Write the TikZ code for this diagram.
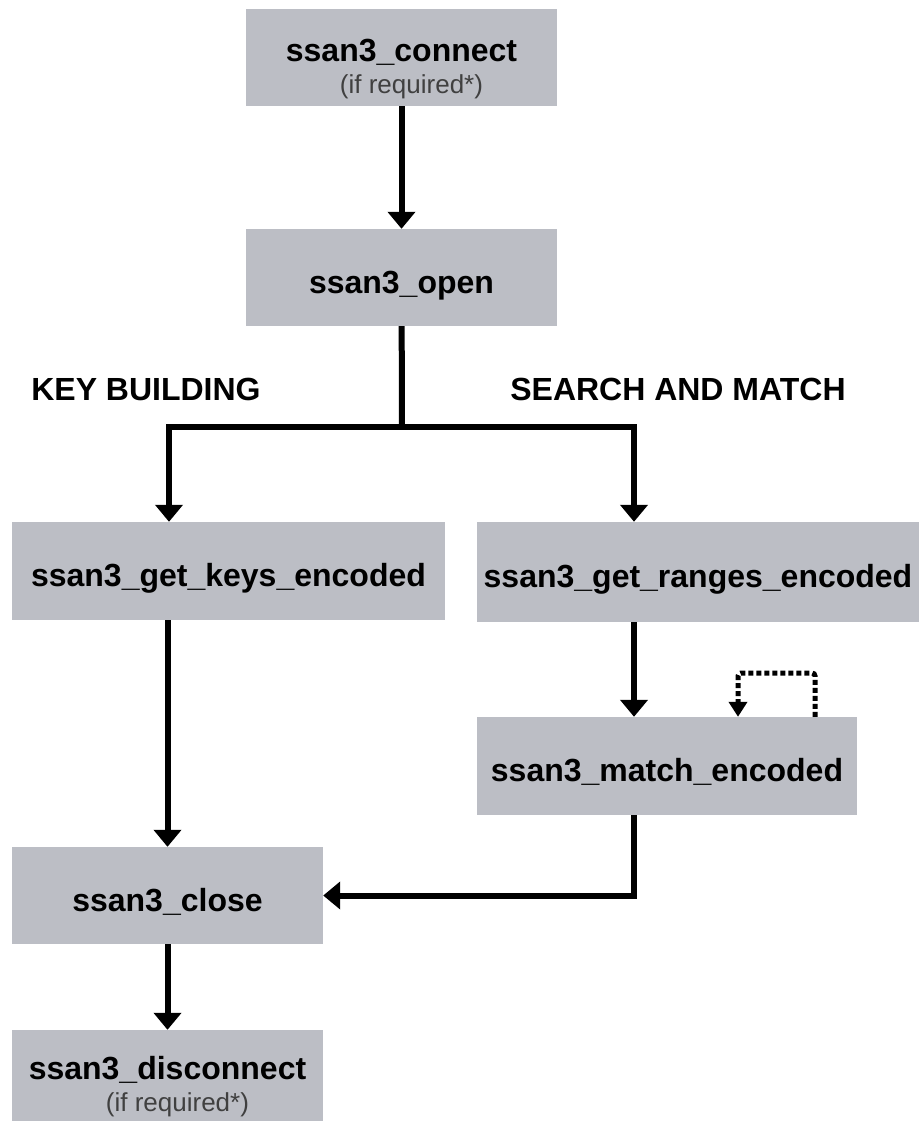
\documentclass[tikz,border=0pt]{standalone}
\usepackage{fontspec}
\setmainfont{Liberation Sans}
\usetikzlibrary{arrows.meta}
\definecolor{boxgray}{RGB}{188,190,197}
\definecolor{notegray}{RGB}{64,64,64}
\newcommand{\reqnote}{{\fontsize{26}{28}\selectfont\mdseries\color{notegray}\hspace*{20pt}(if required*)}}
\begin{document}
\begin{tikzpicture}[x=1pt,y=-1pt,
    box/.style={fill=boxgray, minimum height=97pt, inner sep=0pt, font=\fontsize{32}{35}\selectfont\bfseries},
    single/.style={box, text height=31pt, text depth=0pt},
    double/.style={box, align=center},
    lab/.style={inner sep=0pt, font=\fontsize{32}{35}\selectfont\bfseries, text height=23pt, text depth=0pt},
    line/.style={line width=6pt},
    flow/.style={line, -{Triangle[width=27pt,length=17pt]}},
    loopflow/.style={line width=5pt, dash pattern=on 5pt off 3pt, rounded corners=3pt, -{Triangle[width=18pt,length=15pt]}}]
    \useasboundingbox (0,0) rectangle (918,1121);
    %Nodes
    \node[double, minimum width=311pt] at (401.5,57.5) (connect) {\rule{0pt}{46pt}ssan3\_connect\\[-3pt]\reqnote};
    \node[single, minimum width=311pt] at (401.5,277.5) (open) {ssan3\_open};
    \node[lab] at (146,389) (keylab) {KEY BUILDING};
    \node[lab] at (678,389) (searchlab) {SEARCH AND MATCH};
    \coordinate (fork) at (402,427);
    \coordinate (forkl) at (169,427);
    \coordinate (forkr) at (634,427);
    \node[single, minimum width=433pt, minimum height=98pt] at (228.5,571) (keys) {ssan3\_get\_keys\_encoded};
    \node[single, minimum width=442pt, minimum height=100pt] at (698,572) (ranges) {ssan3\_get\_ranges\_encoded};
    \node[single, minimum width=380pt, minimum height=98pt] at (667,766) (match) {ssan3\_match\_encoded};
    \coordinate (loopr) at (815,673);
    \coordinate (loopl) at (738,673);
    \node[single, minimum width=311pt] at (167.5,895.5) (close) {ssan3\_close};
    \node[double, minimum width=311pt] at (167.5,1078.5) (disconnect) {\rule{0pt}{40pt}ssan3\_disconnect\\[-3pt]\reqnote};

    %Lines
    \draw[flow] (connect) -- (open);
    \draw[line] (open) -- (fork);
    \draw[flow] (fork) -- (forkl) -- (keys.north -| forkl);
    \draw[flow] (fork) -- (forkr) -- (ranges.north -| forkr);
    \draw[flow] (keys.south -| close.north) -- (close);
    \draw[flow] (ranges.south -| forkr) -- (match.north -| forkr);
    \draw[loopflow] (match.north -| loopr) -- (loopr) -- (loopl) -- (match.north -| loopl);
    \draw[flow] (match.south -| forkr) |- (close);
    \draw[flow] (close) -- (disconnect);
\end{tikzpicture}
\end{document}
